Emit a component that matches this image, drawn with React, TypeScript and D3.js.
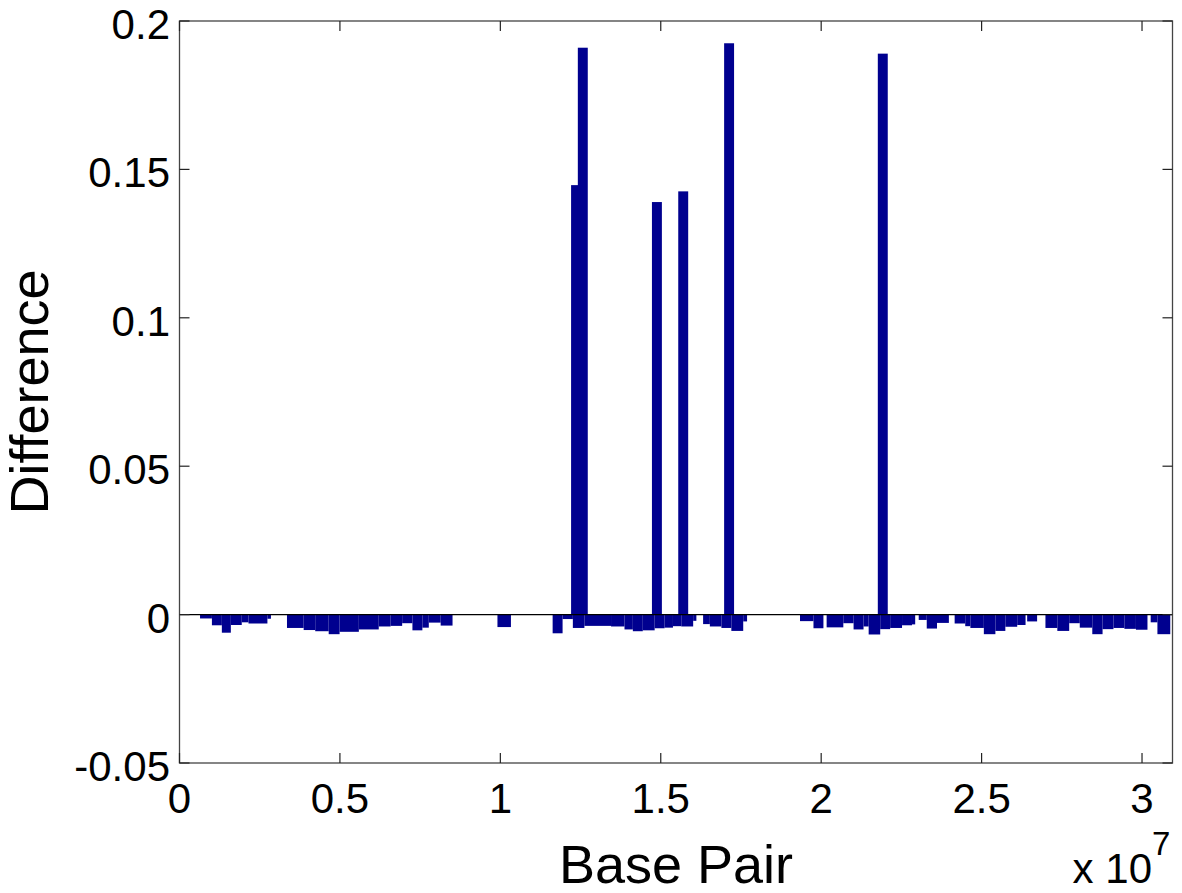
import React from "react";
import * as d3 from "d3";

// x values are in units of 1e7 base pairs
const xTicks = [0, 0.5, 1, 1.5, 2, 2.5, 3];
const xTickLabels = ["0", "0.5", "1", "1.5", "2", "2.5", "3"];
const yTicks = [-0.05, 0, 0.05, 0.1, 0.15, 0.2];
const yTickLabels = ["-0.05", "0", "0.05", "0.1", "0.15", "0.2"];

// the tall positive bars
const peakPos = [1.236, 1.257, 1.488, 1.57, 1.713, 2.192];
const peakVal = [0.1447, 0.191, 0.139, 0.1426, 0.1925, 0.189];

// small negative bars: [start, end, value]
const dips: [number, number, number][] = [
  [0.064, 0.101, -0.0013],
  [0.101, 0.132, -0.0036],
  [0.132, 0.16, -0.0061],
  [0.16, 0.194, -0.0035],
  [0.194, 0.215, -0.0026],
  [0.215, 0.274, -0.003],
  [0.274, 0.285, -0.0014],
  [0.335, 0.387, -0.0045],
  [0.387, 0.423, -0.0052],
  [0.423, 0.465, -0.0056],
  [0.465, 0.499, -0.0066],
  [0.499, 0.559, -0.0058],
  [0.559, 0.621, -0.005],
  [0.621, 0.658, -0.004],
  [0.658, 0.694, -0.0038],
  [0.694, 0.726, -0.0029],
  [0.726, 0.757, -0.0053],
  [0.757, 0.777, -0.0044],
  [0.777, 0.814, -0.0027],
  [0.814, 0.851, -0.0037],
  [0.991, 1.033, -0.0042],
  [1.163, 1.194, -0.0063],
  [1.194, 1.226, -0.0015],
  [1.226, 1.262, -0.0045],
  [1.262, 1.345, -0.0038],
  [1.345, 1.387, -0.004],
  [1.387, 1.413, -0.005],
  [1.413, 1.444, -0.0056],
  [1.444, 1.481, -0.0053],
  [1.481, 1.512, -0.0046],
  [1.512, 1.538, -0.0044],
  [1.538, 1.564, -0.0039],
  [1.564, 1.601, -0.004],
  [1.601, 1.611, -0.0021],
  [1.632, 1.653, -0.0032],
  [1.653, 1.689, -0.004],
  [1.689, 1.72, -0.0045],
  [1.72, 1.757, -0.0055],
  [1.757, 1.769, -0.0023],
  [1.934, 1.976, -0.0022],
  [1.976, 2.007, -0.0046],
  [2.017, 2.069, -0.0043],
  [2.069, 2.101, -0.0029],
  [2.101, 2.132, -0.005],
  [2.132, 2.148, -0.004],
  [2.148, 2.184, -0.0067],
  [2.184, 2.215, -0.0049],
  [2.215, 2.252, -0.0045],
  [2.252, 2.283, -0.0036],
  [2.283, 2.293, -0.0033],
  [2.304, 2.329, -0.0018],
  [2.329, 2.361, -0.0047],
  [2.361, 2.398, -0.0028],
  [2.416, 2.449, -0.003],
  [2.449, 2.465, -0.0039],
  [2.465, 2.507, -0.0045],
  [2.507, 2.543, -0.0066],
  [2.543, 2.574, -0.0055],
  [2.574, 2.611, -0.0041],
  [2.611, 2.637, -0.0035],
  [2.642, 2.673, -0.0023],
  [2.699, 2.736, -0.0045],
  [2.736, 2.773, -0.0055],
  [2.773, 2.806, -0.0029],
  [2.806, 2.845, -0.0044],
  [2.845, 2.877, -0.0066],
  [2.877, 2.911, -0.0049],
  [2.911, 2.945, -0.0045],
  [2.945, 2.981, -0.0048],
  [2.981, 3.017, -0.0051],
  [3.027, 3.048, -0.0026],
  [3.048, 3.088, -0.0066],
];

const W = 1182, H = 893;
const left = 179.5, right = 1172.5, top = 21, bottom = 763;
const barColor = "#00008f";
const font = "'Liberation Sans', Arial, Helvetica, sans-serif";
const peakWidth = 0.031;

export default function App() {
  const x = d3.scaleLinear().domain([0, 3.095]).range([left, right]);
  const y = d3.scaleLinear().domain([-0.05, 0.2]).range([bottom, top]);
  const y0 = y(0);

  return (
    <div style={{ position: "absolute", left: 0, top: 0, background: "#fff" }}>
      <svg width={W} height={H} style={{ display: "block" }}>
        <rect x={0} y={0} width={W} height={H} fill="#fff" />

        {/* negative bars */}
        {dips.map((d, i) => (
          <rect
            key={"d" + i}
            x={x(d[0])}
            y={y0}
            width={x(d[1]) - x(d[0])}
            height={y(d[2]) - y0}
            fill={barColor}
          />
        ))}

        {/* peaks */}
        {peakPos.map((p, i) => (
          <rect
            key={"p" + i}
            x={x(p - peakWidth / 2)}
            y={y(peakVal[i])}
            width={x(peakWidth) - x(0)}
            height={y0 - y(peakVal[i])}
            fill={barColor}
          />
        ))}

        {/* baseline */}
        <line x1={left} x2={right} y1={y0} y2={y0} stroke="#000" strokeWidth={1.2} />

        {/* box */}
        <rect x={left} y={top} width={right - left} height={bottom - top}
          fill="none" stroke="#444" strokeWidth={1.3} />

        {/* ticks */}
        {xTicks.map((t, i) => (
          <g key={"xt" + i}>
            <line x1={x(t)} x2={x(t)} y1={bottom} y2={bottom - 10} stroke="#222" strokeWidth={1.2} />
            <line x1={x(t)} x2={x(t)} y1={top} y2={top + 10} stroke="#222" strokeWidth={1.2} />
            <text x={x(t)} y={813} textAnchor="middle" fontFamily={font} fontSize={42} fill="#000">
              {xTickLabels[i]}
            </text>
          </g>
        ))}
        {yTicks.map((t, i) => (
          <g key={"yt" + i}>
            <line x1={left} x2={left + 10} y1={y(t)} y2={y(t)} stroke="#222" strokeWidth={1.2} />
            <line x1={right} x2={right - 10} y1={y(t)} y2={y(t)} stroke="#222" strokeWidth={1.2} />
            <text x={170} y={y(t) + 18} textAnchor="end" fontFamily={font} fontSize={42} fill="#000">
              {yTickLabels[i]}
            </text>
          </g>
        ))}

        {/* axis labels */}
        <text x={(left + right) / 2} y={883} textAnchor="middle" fontFamily={font} fontSize={54} fill="#000">
          Base Pair
        </text>
        <text
          transform={`translate(48, ${(top + bottom) / 2}) rotate(-90)`}
          textAnchor="middle"
          fontFamily={font}
          fontSize={54}
          fill="#000"
        >
          Difference
        </text>
        <text x={1152} y={883} textAnchor="end" fontFamily={font} fontSize={42} fill="#000">
          x 10
        </text>
        <text x={1152} y={855} fontFamily={font} fontSize={33} fill="#000">
          7
        </text>
      </svg>
    </div>
  );
}
